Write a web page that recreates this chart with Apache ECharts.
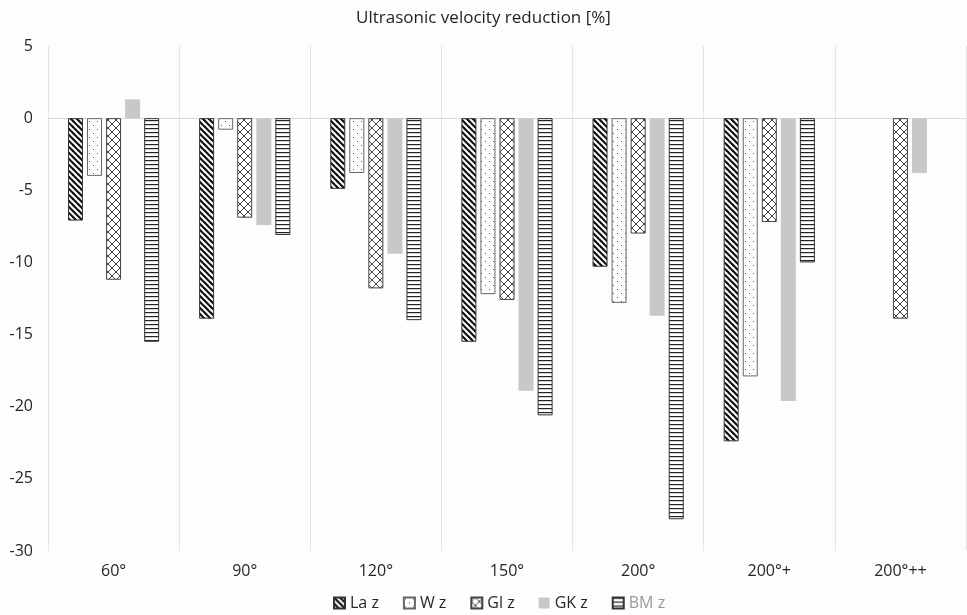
<!DOCTYPE html>
<html><head><meta charset="utf-8">
<script src="https://cdn.jsdelivr.net/npm/echarts@6/dist/echarts.min.js"></script>
<style>html,body{margin:0;padding:0;background:#fdfdfd}#c{width:967px;height:615px}</style>
</head><body><div id="c"></div>
<script>
const categories = ['60°','90°','120°','150°','200°','200°+','200°++'];
const seriesNames = ['La z','W z','Gl z','GK z','BM z'];
const laZ = [-7.1, -13.9, -4.9, -15.5, -10.3, -22.4, null];
const wZ  = [-4.0, -0.8, -3.8, -12.2, -12.8, -17.9, null];
const glZ = [-11.2, -6.9, -11.8, -12.6, -8.0, -7.2, -13.9];
const gkZ = [1.3, -7.4, -9.4, -18.9, -13.7, -19.6, -3.8];
const bmZ = [-15.5, -8.1, -14.0, -20.6, -27.8, -10.0, null];
const yMin = -30, yMax = 5, yStep = 5;

function makePattern(size, draw) {
  const c = document.createElement('canvas');
  c.width = size; c.height = size;
  const ctx = c.getContext('2d');
  ctx.fillStyle = '#ffffff';
  ctx.fillRect(0, 0, size, size);
  draw(ctx, size);
  return { image: c, repeat: 'repeat' };
}
const patLa = makePattern(6, (ctx, s) => {
  ctx.strokeStyle = '#111'; ctx.lineWidth = 2.2;
  for (let k = -1; k <= 1; k++) {
    ctx.beginPath(); ctx.moveTo(k * s - 1, -1); ctx.lineTo(k * s + s + 1, s + 1); ctx.stroke();
  }
});
const patW = makePattern(8, (ctx) => {
  ctx.fillStyle = '#555';
  ctx.fillRect(1, 1, 1, 1);
  ctx.fillRect(5, 5, 1, 1);
});
const patGl = makePattern(8, (ctx) => {
  ctx.strokeStyle = '#444'; ctx.lineWidth = 1;
  ctx.beginPath();
  ctx.moveTo(0, 4); ctx.lineTo(4, 0); ctx.lineTo(8, 4); ctx.lineTo(4, 8); ctx.lineTo(0, 4);
  ctx.stroke();
});
const patBm = makePattern(4, (ctx) => {
  ctx.fillStyle = '#222';
  ctx.fillRect(0, 0, 4, 1.2);
});

const styles = [
  { color: patLa, borderColor: '#333', borderWidth: 1 },
  { color: patW, borderColor: '#666', borderWidth: 1 },
  { color: patGl, borderColor: '#444', borderWidth: 1 },
  { color: '#c8c8c8', borderWidth: 0 },
  { color: patBm, borderColor: '#333', borderWidth: 1 }
];
const values = [laZ, wZ, glZ, gkZ, bmZ];

const chart = echarts.init(document.getElementById('c'));
const font = "'Open Sans', sans-serif";
chart.setOption({
  animation: false,
  backgroundColor: '#fdfdfd',
  textStyle: { fontFamily: font },
  title: {
    text: 'Ultrasonic velocity reduction [%]',
    left: 'center', top: 5,
    textStyle: { fontFamily: font, fontSize: 17, fontWeight: 'normal', color: '#1f1f1f' }
  },
  legend: {
    top: 590, left: 328,
    icon: 'rect',
    itemWidth: 11, itemHeight: 11, itemGap: 24,
    textStyle: { fontFamily: font, fontSize: 16, color: '#262626' },
    data: seriesNames.map((n, i) => i === 4 ? { name: n, textStyle: { color: '#999' } } : { name: n })
  },
  grid: { left: 48, right: 1, top: 46, bottom: 64 },
  xAxis: [{
    type: 'category', data: categories, position: 'bottom',
    axisLine: { show: false, onZero: false }, axisTick: { show: false },
    axisLabel: { fontFamily: font, fontSize: 16, color: '#262626', margin: 12 },
    splitLine: { show: true, interval: 0, lineStyle: { color: '#e4e4e4', width: 1 } }
  }, {
    type: 'category', data: categories, position: 'bottom',
    axisLine: { show: true, onZero: true, lineStyle: { color: '#d9d9d9', width: 1 } },
    axisTick: { show: false }, axisLabel: { show: false }, splitLine: { show: false }
  }],
  yAxis: {
    type: 'value', min: yMin, max: yMax, interval: yStep,
    axisLine: { show: false }, axisTick: { show: false },
    axisLabel: { fontFamily: font, fontSize: 16, color: '#262626', margin: 15 },
    splitLine: { show: false }
  },
  series: seriesNames.map((n, i) => ({
    name: n, type: 'bar', xAxisIndex: 0, data: values[i],
    barWidth: 15, barGap: '27%',
    itemStyle: styles[i]
  }))
});
</script></body></html>
